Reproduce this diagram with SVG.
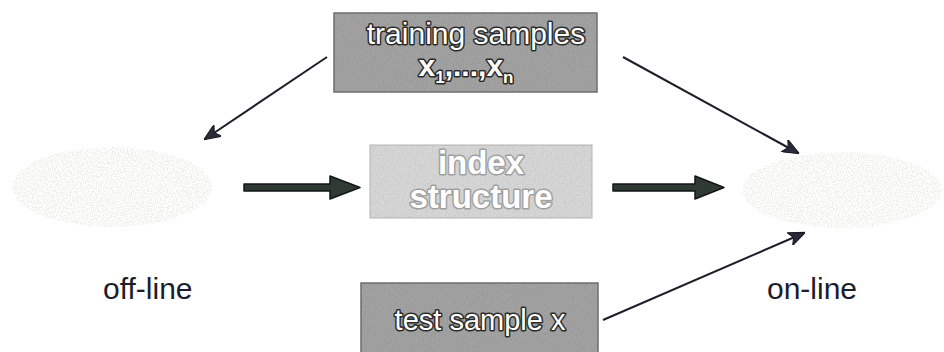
<svg xmlns="http://www.w3.org/2000/svg" width="944" height="352" viewBox="0 0 944 352">
  <defs>
    <filter id="grain" x="0" y="0" width="100%" height="100%">
      <feTurbulence type="fractalNoise" baseFrequency="0.9" numOctaves="2" seed="4" result="n"/>
      <feColorMatrix in="n" type="matrix" values="0 0 0 0 0  0 0 0 0 0  0 0 0 0 0  0 0 0 -2.2 1.35" result="a"/>
      <feComposite in="SourceGraphic" in2="a" operator="in"/>
    </filter>
    <filter id="speckle" x="0" y="0" width="100%" height="100%">
      <feTurbulence type="fractalNoise" baseFrequency="0.8" numOctaves="1" seed="9" result="n"/>
      <feColorMatrix in="n" type="matrix" values="0 0 0 0 0  0 0 0 0 0  0 0 0 0 0  0 0 0 -6 3.3" result="a"/>
      <feComposite in="SourceGraphic" in2="a" operator="in"/>
    </filter>
    <marker id="thin" viewBox="0 0 12 10" refX="11" refY="5" markerWidth="17" markerHeight="14" markerUnits="userSpaceOnUse" orient="auto">
      <path d="M0,0 L12,5 L0,10 L3,5 Z" fill="#2a2a3a" stroke="#1a1a22" stroke-width="0.8"/>
    </marker>
  </defs>
  <style>
    .box-dark { fill: #a3a3a3; stroke: #6e6e6e; stroke-width: 1.5; }
    .box-light { fill: #d8d8d8; stroke: #b4b4b4; stroke-width: 1; }
    .lbl { font-family: "Liberation Sans", Arial, sans-serif; fill: #ffffff; stroke: #2a2a2a; stroke-width: 3; paint-order: stroke; stroke-linejoin: round; text-anchor: middle; }
    .lbl-soft { font-family: "Liberation Sans", Arial, sans-serif; font-weight: bold; fill: #ffffff; stroke: #a0a0a0; stroke-width: 3; paint-order: stroke; stroke-linejoin: round; text-anchor: middle; }
    .side { font-family: "Liberation Sans", Arial, sans-serif; font-size: 30px; fill: #1c1c2c; }
    .conn { stroke: #1e1e2a; stroke-width: 2; fill: none; }
    .thick-body { fill: #2f3a32; stroke: #15151a; stroke-width: 1.5; stroke-linejoin: round; }
  </style>

  <!-- faint off-line / on-line regions: barely visible speckled clouds -->
  <g id="offline-region">
    <ellipse cx="112" cy="187" rx="100" ry="40" fill="#c8c8b8" filter="url(#speckle)" opacity="0.3"/>
  </g>
  <g id="online-region">
    <ellipse cx="842" cy="190" rx="100" ry="38" fill="#c8c8c0" filter="url(#speckle)" opacity="0.3"/>
  </g>

  <!-- training samples -->
  <g id="training-samples">
    <rect class="box-dark" x="334" y="13" width="263" height="79"/>
    <rect x="334" y="13" width="263" height="79" fill="#7a7a7a" filter="url(#grain)" opacity="0.35"/>
    <text class="lbl" x="476" y="44" font-size="30">training samples</text>
    <text class="lbl" x="466" y="76" font-size="30" font-weight="bold">x<tspan font-size="17" dy="7">1</tspan><tspan dy="-7">,...,x</tspan><tspan font-size="17" dy="7">n</tspan></text>
  </g>

  <!-- index structure -->
  <g id="index-structure">
    <rect class="box-light" x="370" y="145" width="222" height="73"/>
    <rect x="370" y="145" width="222" height="73" fill="#9a9a9a" filter="url(#grain)" opacity="0.3"/>
    <text class="lbl-soft" x="481" y="174" font-size="33">index</text>
    <text class="lbl-soft" x="481" y="208" font-size="33">structure</text>
  </g>

  <!-- test sample -->
  <g id="test-sample">
    <rect class="box-dark" x="361" y="283" width="237" height="75"/>
    <rect x="361" y="283" width="237" height="75" fill="#7a7a7a" filter="url(#grain)" opacity="0.35"/>
    <text class="lbl" x="480" y="330" font-size="29">test sample x</text>
  </g>

  <!-- phase labels -->
  <g id="offline-label"><text class="side" x="103" y="299">off-line</text></g>
  <g id="online-label"><text class="side" x="767" y="299">on-line</text></g>

  <!-- connectors -->
  <g id="connectors">
    <line class="conn" x1="327" y1="57" x2="205" y2="139" marker-end="url(#thin)"/>
    <line class="conn" x1="623" y1="57" x2="798" y2="153" marker-end="url(#thin)"/>
    <line class="conn" x1="603" y1="320" x2="804" y2="233" marker-end="url(#thin)"/>
    <path class="thick-body" d="M244,184 L330,184 L330,176 L360,187.5 L330,199 L330,191 L244,191 Z"/>
    <path class="thick-body" d="M613,184 L695,184 L695,176 L724,187.5 L695,199 L695,191 L613,191 Z"/>
  </g>
</svg>
